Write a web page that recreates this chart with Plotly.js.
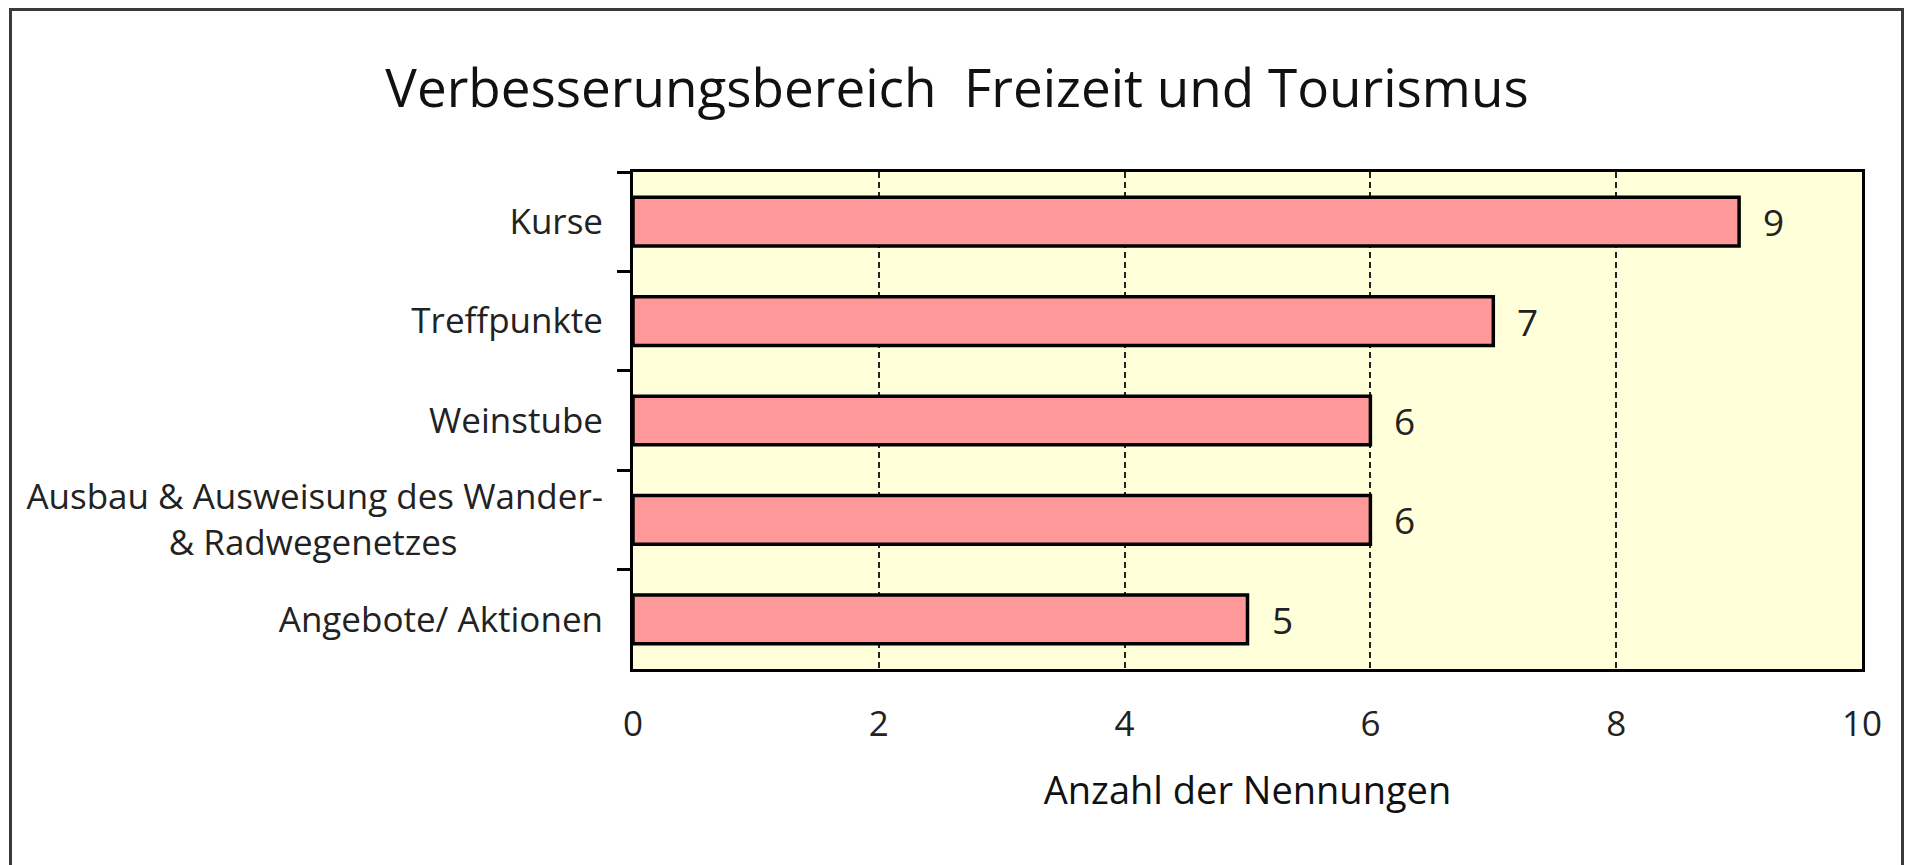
<!DOCTYPE html>
<html>
<head>
<meta charset="utf-8">
<script src="https://cdn.plot.ly/plotly-3.0.1.min.js"></script>
<style>
  html, body { margin: 0; padding: 0; background: #ffffff; }
  #chart { width: 1914px; height: 865px; }
  #frame { position: absolute; left: 9px; top: 8px; width: 1895px; height: 900px;
           border: 3px solid #3a3a3a; box-sizing: border-box; pointer-events: none; }
</style>
</head>
<body>
<div id="chart"></div>
<div id="frame"></div>
<script>
// Data
const categories = [
  "Kurse",
  "Treffpunkte",
  "Weinstube",
  "Ausbau & Ausweisung des Wander-<br>& Radwegenetzes\u00a0\u00a0\u00a0\u00a0\u00a0\u00a0\u00a0\u00a0\u00a0\u00a0\u00a0\u00a0\u00a0\u00a0\u00a0\u00a0",
  "Angebote/ Aktionen"
];
const values = [9, 7, 6, 6, 5];
const xTicks = [0, 2, 4, 6, 8, 10];
const chartTitle = "Verbesserungsbereich&nbsp; Freizeit und Tourismus";
const xTitle = "Anzahl der Nennungen";

const FONT = "'Open Sans', 'Noto Sans', sans-serif";

const trace = {
  type: "bar",
  orientation: "h",
  x: values,
  y: categories,
  width: 0.49,
  marker: { color: "#FF9999", line: { color: "#000000", width: 3.5 } },
  hoverinfo: "none"
};

const annotations = values.map((v, i) => ({
  x: v, y: categories[i], xref: "x", yref: "y",
  text: String(v), showarrow: false,
  xanchor: "left", yanchor: "middle", xshift: 22,
  font: { family: FONT, size: 37, color: "#222222" }
}));

const layout = {
  width: 1914, height: 865,
  paper_bgcolor: "#ffffff",
  plot_bgcolor: "#FFFFDA",
  margin: { l: 633, r: 52, t: 172, b: 196, pad: 0 },
  showlegend: false,
  font: { family: FONT, color: "#222222" },
  title: {
    text: chartTitle,
    x: 0.5, xanchor: "center",
    y: 1 - 88 / 865, yref: "container", yanchor: "middle",
    font: { family: FONT, size: 53, color: "#111111" }
  },
  xaxis: {
    range: [0, 10],
    tickvals: xTicks,
    ticktext: xTicks.map(String),
    ticks: "",
    showgrid: true,
    gridcolor: "#222222",
    gridwidth: 2,
    griddash: "6px,4px",
    zeroline: false,
    showline: true,
    linecolor: "#000000",
    linewidth: 3,
    mirror: true,
    tickfont: { family: FONT, size: 35, color: "#222222" },
    ticklabelstandoff: 22,
    title: {
      text: xTitle,
      font: { family: FONT, size: 38, color: "#111111" },
      standoff: 33
    },
    fixedrange: true
  },
  yaxis: {
    type: "category",
    categoryorder: "array",
    categoryarray: categories,
    autorange: "reversed",
    ticks: "outside",
    tickson: "boundaries",
    ticklen: 13,
    tickwidth: 3,
    tickcolor: "#000000",
    showgrid: false,
    zeroline: false,
    showline: true,
    linecolor: "#000000",
    linewidth: 3,
    mirror: true,
    tickfont: { family: FONT, size: 35, color: "#222222" },
    ticklabelstandoff: 20,
    fixedrange: true
  },
  annotations: annotations
};

Plotly.newPlot("chart", [trace], layout, { displayModeBar: false, staticPlot: true });
</script>
</body>
</html>
